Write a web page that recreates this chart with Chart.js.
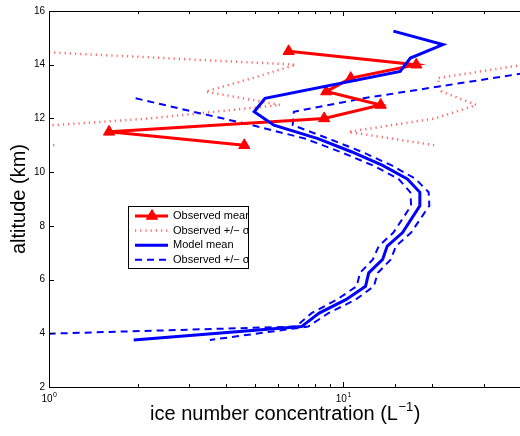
<!DOCTYPE html>
<html>
<head>
<meta charset="utf-8">
<script src="https://cdn.jsdelivr.net/npm/chart.js@4.4.1/dist/chart.umd.min.js"></script>
<style>
  html, body { margin: 0; padding: 0; overflow: hidden; background: #fff; }
  #wrap { width: 528px; height: 436px; }
</style>
</head>
<body>
<div id="wrap"><canvas id="myChart"></canvas></div>
<script>
// observed profile, altitude in km, concentration in L^-1
var obsAlt = [14.5, 14, 13.5, 13, 12.5, 12, 11.5, 11];
var obsMean = [6.52, 17.7, 10.6, 8.75, 13.4, 8.61, 1.60, 4.61];
var obsLow = [0.85, 6.9, 4.9, 3.4, 6.1, 2.2, 0.5, 1.05];
var obsHigh = [60, 41, 20.9, 21.6, 28.3, 20.5, 10.4, 20.5];

// model profile
var modelAlt = [15.25, 14.75, 14.25, 13.75, 12.75, 12.25, 11.75, 11.25, 10.75, 10.25, 9.75, 9.25, 8.75, 7.75, 7.25, 6.75, 6.25, 5.75, 5.25, 4.75, 4.25, 3.75];
var modelMean = [14.8, 21.8, 16.9, 15.6, 5.42, 4.98, 5.81, 8.2, 10.7, 13.6, 16.5, 18.2, 18.2, 15.9, 14.1, 13.6, 12.2, 11.9, 10.2, 8.28, 7.21, 1.94];

var modelLowAlt = [12.75, 12.25, 11.75, 11.25, 10.75, 10.25, 9.75, 9.25, 8.75, 7.75, 7.25, 6.75, 6.25, 5.75, 5.25, 4.75, 4.25, 3.75];
var modelLow = [1.97, 3.09, 4.9, 7.4, 9.8, 12.6, 15.4, 16.9, 17.0, 14.8, 13.2, 12.6, 11.4, 11.1, 9.5, 7.8, 6.9, 0.18];

var modelHighAlt = [13.75, 12.75, 12.25, 11.75, 11.25, 10.75, 10.25, 9.75, 9.25, 8.75, 7.75, 7.25, 6.75, 6.25, 5.75, 5.25, 4.75, 4.25, 3.75];
var modelHigh = [45, 11.7, 6.79, 6.73, 8.9, 11.6, 14.6, 17.6, 19.5, 19.6, 17.0, 15.1, 14.5, 13.1, 12.7, 11.0, 8.9, 7.6, 3.52];

var yTicks = [2, 4, 6, 8, 10, 12, 14, 16];
// decade ticks get a "10" with the exponent raised
var xTickExp = { 1: '0', 10: '1' };

var sigmaLabel = 'Observed +/\u2212 \u03c3';
var FONT = "'Liberation Sans', 'DejaVu Sans', sans-serif";

function pts(xs, ys) {
  return xs.map(function(v, i) { return { x: v, y: ys[i] }; });
}

Chart.defaults.font.family = FONT;
Chart.defaults.color = '#000';

// matlab style box with inward ticks, decade labels and the x title
var framePlugin = {
  id: 'frame',
  afterDraw: function(chart) {
    var c = chart.ctx, a = chart.chartArea, xs = chart.scales.x, ys = chart.scales.y;
    c.save();
    c.strokeStyle = '#000';
    c.lineWidth = 1;
    c.beginPath();
    c.moveTo(a.left + 0.5, a.bottom + 0.5);
    c.lineTo(a.left + 0.5, a.top + 0.5);
    c.lineTo(a.right, a.top + 0.5);
    c.moveTo(a.left, a.bottom + 0.5);
    c.lineTo(a.right, a.bottom + 0.5);
    xs.ticks.forEach(function(t) {
      var px = Math.round(xs.getPixelForValue(t.value)) + 0.5;
      var len = xTickExp[t.value] ? 5 : 3;
      c.moveTo(px, a.bottom);
      c.lineTo(px, a.bottom - len);
      c.moveTo(px, a.top);
      c.lineTo(px, a.top + len);
    });
    ys.ticks.forEach(function(t) {
      var py = Math.round(ys.getPixelForValue(t.value)) + 0.5;
      c.moveTo(a.left, py);
      c.lineTo(a.left + 5, py);
    });
    c.stroke();

    c.fillStyle = '#000';
    c.textBaseline = 'alphabetic';
    c.textAlign = 'left';
    xs.ticks.forEach(function(t) {
      var e = xTickExp[t.value];
      if (!e) return;
      var px = xs.getPixelForValue(t.value);
      c.font = '10px ' + FONT;
      var w1 = c.measureText('10').width;
      c.font = '7px ' + FONT;
      var w2 = c.measureText(e).width;
      var x = px - (w1 + w2) / 2;
      c.font = '10px ' + FONT;
      c.fillText('10', x, a.bottom + 15);
      c.font = '7px ' + FONT;
      c.fillText(e, x + w1 + 0.5, a.bottom + 10);
    });

    var main = 'ice number concentration (L', sup = '\u22121', tail = ')';
    c.font = '20px ' + FONT;
    var wm = c.measureText(main).width, wt = c.measureText(tail).width;
    c.font = '13px ' + FONT;
    var ws = c.measureText(sup).width;
    var x0 = (a.left + a.right) / 2 - (wm + ws + wt) / 2;
    var base = a.bottom + 33;
    c.font = '20px ' + FONT;
    c.fillText(main, x0, base);
    c.fillText(tail, x0 + wm + ws + 1, base);
    c.font = '13px ' + FONT;
    c.fillText(sup, x0 + wm + 0.5, base - 9);
    c.restore();
  }
};

var legendOrder = [1, 4, 0, 2];
var legendPlugin = {
  id: 'boxLegend',
  afterDraw: function(chart) {
    var c = chart.ctx;
    var x0 = 128, y0 = 206, w = 120, h = 62;
    c.save();
    c.fillStyle = '#fff';
    c.fillRect(x0, y0, w, h);
    c.strokeStyle = '#000';
    c.lineWidth = 1;
    c.strokeRect(x0 + 0.5, y0 + 0.5, w, h);
    c.beginPath();
    c.rect(x0 + 1, y0 + 1, w - 1, h - 1);
    c.clip();
    legendOrder.forEach(function(idx, i) {
      var ds = chart.data.datasets[idx];
      var y = y0 + 10 + i * 14.6;
      c.beginPath();
      c.setLineDash(ds.borderDash || []);
      c.strokeStyle = ds.borderColor;
      c.lineWidth = ds.borderWidth;
      c.moveTo(x0 + 7, y);
      c.lineTo(x0 + 40, y);
      c.stroke();
      c.setLineDash([]);
      if (ds.pointRadius) {
        c.fillStyle = ds.backgroundColor;
        c.lineWidth = 1;
        Chart.helpers.drawPoint(c, { pointStyle: ds.pointStyle, radius: ds.pointRadius, rotation: 0, borderWidth: 1 }, x0 + 24, y);
      }
      c.fillStyle = '#000';
      c.font = '11px ' + FONT;
      c.textBaseline = 'middle';
      c.fillText(ds.label, x0 + 45, y);
    });
    c.restore();
  }
};

var ctx = document.getElementById('myChart').getContext('2d');
var chart = new Chart(ctx, {
  type: 'scatter',
  data: {
    datasets: [{
      label: 'Model mean',
      data: pts(modelMean, modelAlt),
      showLine: true,
      borderColor: '#0000ff',
      borderWidth: 3,
      pointRadius: 0
    }, {
      label: 'Observed mean',
      data: pts(obsMean, obsAlt),
      showLine: true,
      borderColor: '#ff0000',
      backgroundColor: '#ff0000',
      borderWidth: 3,
      pointStyle: 'triangle',
      pointRadius: 6.5,
      pointBorderWidth: 1
    }, {
      label: sigmaLabel,
      data: pts(modelLow, modelLowAlt),
      showLine: true,
      borderColor: '#0000ff',
      borderWidth: 2,
      borderDash: [7, 5],
      pointRadius: 0
    }, {
      label: sigmaLabel,
      data: pts(modelHigh, modelHighAlt),
      showLine: true,
      borderColor: '#0000ff',
      borderWidth: 2,
      borderDash: [7, 5],
      pointRadius: 0
    }, {
      label: sigmaLabel,
      data: pts(obsLow, obsAlt),
      showLine: true,
      borderColor: 'rgba(255, 40, 40, 0.7)',
      borderWidth: 2.5,
      borderDash: [1.2, 4],
      pointRadius: 0
    }, {
      label: sigmaLabel,
      data: pts(obsHigh, obsAlt),
      showLine: true,
      borderColor: 'rgba(255, 40, 40, 0.7)',
      borderWidth: 2.5,
      borderDash: [1.2, 4],
      pointRadius: 0
    }]
  },
  options: {
    responsive: true,
    maintainAspectRatio: false,
    animation: false,
    events: [],
    clip: 0,
    layout: { padding: { top: 11, right: 1, left: 0, bottom: 0 } },
    plugins: { legend: { display: false }, tooltip: { enabled: false } },
    scales: {
      x: {
        type: 'logarithmic',
        min: 1,
        max: 40,
        grid: { display: false, drawTicks: false },
        border: { display: false },
        ticks: { autoSkip: false, maxRotation: 0, callback: function() { return ''; } },
        afterFit: function(s) { s.height = 49; }
      },
      y: {
        type: 'linear',
        min: 2,
        max: 16,
        grid: { display: false, drawTicks: false },
        border: { display: false },
        afterBuildTicks: function(s) { s.ticks = yTicks.map(function(v) { return { value: v }; }); },
        ticks: { padding: 4, font: { size: 10 } },
        title: {
          display: true,
          text: 'altitude (km)',
          font: { size: 20 },
          padding: { top: 7, bottom: 0 }
        },
        afterFit: function(s) { s.width = 49; }
      }
    }
  },
  plugins: [framePlugin, legendPlugin]
});
</script>
</body>
</html>
